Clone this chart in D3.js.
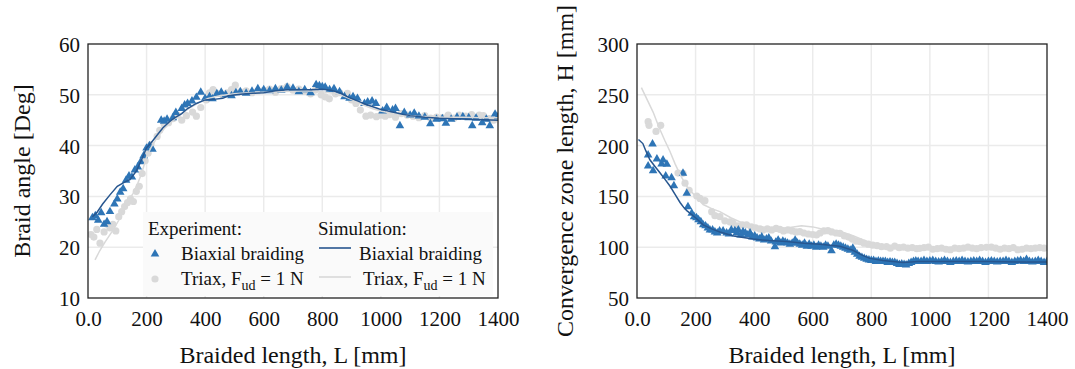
<!DOCTYPE html>
<html><head><meta charset="utf-8">
<script src="https://cdn.jsdelivr.net/npm/d3@7"></script>
<style>
body{margin:0;background:#fff;}
svg, svg text{font-family:"Liberation Serif","Tinos","Times New Roman","Nimbus Roman","Nimbus Roman No9 L","FreeSerif","DejaVu Serif",serif !important;}
</style></head>
<body><svg id="c" width="1075" height="369"></svg>
<script>
// ---------------- data ----------------
const xTicks = [0,200,400,600,800,1000,1200,1400];
const angleTicks = [10,20,30,40,50,60];
const convTicks = [50,100,150,200,250,300];

// Left panel: braid angle [Deg] vs braided length [mm]
const angleBiaxExp = [[15,25.8],[25,26.2],[35,25.3],[45,26.8],[55,24.5],[65,25],[75,27],[90,28.5],[100,29.5],[110,30.8],[120,31.5],[130,33.2],[140,34],[150,33.8],[160,35.2],[170,35.8],[180,36.8],[190,38],[200,39.5],[210,40],[220,39.3],[250,45],[260,44.8],[270,45.2],[290,45.5],[300,46.5],[320,47.3],[330,48],[340,48.3],[355,48.8],[370,49.5],[385,50.5],[400,49.3],[415,49.6],[425,49.2],[440,50.2],[455,50.5],[470,50],[490,49.8],[505,50.4],[520,50.6],[540,50.3],[560,50.7],[580,51.2],[600,51],[620,50.8],[640,51.2],[660,50.9],[680,51.5],[700,51.3],[720,50.6],[740,51],[760,50.4],[779,52],[790,51.8],[800,51.6],[810,51.5],[825,51],[840,51.2],[859,50.6],[876,49.6],[893,49.3],[905,49.6],[920,49.3],[944,48.3],[955,48.6],[970,48.8],[983,48.3],[1006,46.8],[1020,47.5],[1040,47],[1050,47.3],[1065,43.9],[1080,46.5],[1100,46],[1114,46.4],[1130,45.8],[1150,45.6],[1169,44.3],[1190,45.2],[1210,45.3],[1222,44.4],[1240,45.2],[1260,45.6],[1280,45.7],[1300,45.5],[1312,43.9],[1325,45.4],[1346,44.5],[1360,45.2],[1372,43.9],[1390,46.2],[1400,45.7]];
const angleTriaxExp = [[10,22.5],[20,22],[30,23.5],[41,20.8],[55,23],[65,24.5],[75,23.8],[85,24.5],[95,23.2],[105,26],[115,27],[125,28],[135,28.8],[145,29.5],[155,29],[165,31],[175,32],[185,34.5],[195,37],[205,38.5],[215,40.2],[236,41.8],[245,43],[260,44.2],[275,44.5],[290,45.3],[305,46],[320,45],[336,45.9],[357,46.6],[370,45.8],[385,47.5],[404,49],[415,50.4],[427,51],[440,50.3],[460,50],[475,50.4],[490,51],[503,51.9],[520,50.6],[540,50.8],[560,50.4],[580,50.8],[600,50.9],[620,51.1],[640,50.5],[660,51.2],[680,51.6],[700,50.9],[720,51.1],[740,50.7],[760,50.2],[775,50.9],[796,50],[810,49.6],[824,49.2],[845,50.2],[860,50.4],[886,50.3],[900,49],[915,48.3],[930,47],[949,45.8],[965,46],[985,45.7],[1000,46],[1015,45.8],[1030,46.1],[1050,45.6],[1070,46.3],[1090,46],[1110,45.8],[1130,45.5],[1150,45.9],[1170,45.4],[1190,45.6],[1210,45.5],[1230,46],[1250,45.4],[1267,46],[1290,45.8],[1310,46.1],[1336,46],[1350,45.9],[1370,45.3],[1385,45]];
const angleBiaxSim = [[15,26],[30,26.8],[50,28.5],[75,30.3],[100,32],[125,32.8],[143,33.3],[165,35],[185,37.5],[200,39.6],[215,40.5],[235,42],[256,43.5],[280,44.8],[300,45.6],[320,46.3],[340,47.3],[370,48.3],[400,49],[430,49.1],[460,49.3],[480,49.8],[520,50.1],[560,50.3],[600,50.4],[640,50.8],[680,51],[720,51],[760,51],[800,51.1],[830,50.9],[860,50.4],[890,49.5],[920,48.8],[950,48.1],[995,47.2],[1040,46.6],[1070,46.2],[1100,45.9],[1150,45.6],[1200,45.4],[1250,45.3],[1300,45.2],[1350,45.1],[1400,45]];
const angleTriaxSim = [[24,17.5],[40,19.3],[58,21],[86,23.4],[105,25.3],[120,27.3],[137,29],[154,30.6],[170,32.6],[183,34.5],[200,37.8],[215,39.6],[235,41.5],[260,43.3],[290,45],[320,46.3],[350,47.5],[380,48.5],[410,49.3],[450,49.8],[500,50.2],[550,50.4],[600,50.5],[650,50.6],[700,50.7],[750,50.8],[800,50.6],[850,50.2],[880,49.6],[910,48.8],[940,48],[970,47.3],[1000,46.8],[1040,46.3],[1080,46],[1120,45.8],[1170,45.7],[1220,45.6],[1280,45.6],[1340,45.5],[1400,45.5]];

// Right panel: convergence zone length H [mm] vs braided length [mm]
const convBiaxExp = [[38,190.7],[38,180],[53,201.6],[55,175.3],[68,186.8],[84,181.9],[89,185.8],[98,170],[102,181.6],[118,168.4],[126,160.5],[157,172.7],[170,153],[174,139.9],[187,133.4],[195,130],[203,129],[210,127],[218,125],[226,122],[234,121],[242,119],[249,117],[258,117],[266,115],[274,114],[282,116],[294,116],[306,114],[314,113],[322,117],[334,116.3],[340,114],[346,117],[354,112],[362,115.3],[370,114],[378,112],[386,114],[394,110],[402,111],[410,109],[418,108],[426,110],[434,107],[442,108],[450,109],[458,106],[471,100.5],[474,105],[482,107],[490,104],[498,106],[506,105],[514,104],[522,103],[530,104],[540,107],[548,104],[556,103],[564,102],[572,104],[580,101],[588,103],[596,101],[604,102],[612,100],[620,102],[628,101],[636,100],[644,102],[652,101],[664,96.6],[672,102],[680,103],[688,102],[696,101],[704,100],[712,99],[720,98],[728,97],[737,99],[744,95],[752,93],[760,91],[768,90],[776,89],[784,88],[792,87.5],[800,87],[808,87],[816,86],[824,86.5],[832,86],[840,86],[848,86],[856,85],[864,85.5],[872,85],[880,85],[888,84],[896,83],[904,83.5],[912,83],[919,82.5],[928,84],[936,85],[944,86],[952,86.5],[960,86],[970,86],[980,87],[990,86],[1000,86.5],[1010,87],[1020,86],[1030,85.5],[1040,86],[1050,87],[1060,86],[1070,85],[1080,86],[1090,86.5],[1100,86],[1110,87],[1120,86],[1130,85.5],[1140,86],[1150,86.5],[1160,86],[1170,87],[1180,86],[1190,85],[1200,86],[1210,86.5],[1220,86],[1230,85.5],[1240,86],[1250,86],[1260,87],[1270,86],[1280,85],[1290,86],[1300,86.5],[1310,87],[1320,86],[1330,88],[1340,86],[1350,85.5],[1360,86],[1370,87],[1380,86],[1390,85],[1400,86]];
const convTriaxExp = [[38,223.5],[41,220],[65,214],[81,220],[140,173],[157,172.7],[164,163],[178,156],[204,150.4],[215,148],[232,145.8],[255,135],[266,131],[283,130],[300,126],[317,125],[328,123.6],[345,121],[360,122],[374,122],[390,120],[405,119],[420,118],[430,117],[445,118],[460,117],[475,118.5],[488,117.6],[500,116],[515,117],[530,116],[543,115],[556,115.3],[570,114],[585,113],[600,112.5],[613,112],[625,114],[638,116],[652,116.3],[665,115],[680,114],[693,113.7],[708,111],[722,110],[735,108],[748,106],[761,105.5],[775,104],[790,103],[805,102],[820,101.5],[835,100.5],[852,100.5],[865,99],[880,101],[895,99.5],[910,100],[925,99],[940,99.5],[955,98.5],[966,98.9],[980,99.5],[995,100],[1010,98],[1025,98.5],[1040,99],[1055,98],[1070,97.5],[1085,99],[1100,98.5],[1115,99],[1130,100],[1145,99],[1160,98.5],[1175,99.5],[1193,99.9],[1210,100],[1225,99],[1240,98],[1255,99],[1270,98.5],[1285,99.5],[1300,97.5],[1315,98],[1330,99],[1345,98.5],[1360,99],[1375,99.5],[1390,99]];
const convBiaxSim = [[5,206],[20,202],[30,195],[44,186],[60,180],[79,173],[95,167],[113,160],[130,152],[147,144],[160,139],[170,136],[200,129],[226,122],[255,118],[283,115],[330,111],[396,108],[450,106.5],[511,105.5],[570,104],[625,103],[693,101],[737,97],[770,92],[795,89],[840,87],[908,85],[960,86],[1000,86],[1100,86],[1200,86],[1300,85.5],[1400,85.5]];
const convTriaxSim = [[15,257],[35,245],[55,233],[75,218],[95,205],[113,194],[130,182],[150,170],[170,160],[200,150],[226,142],[255,138],[283,135],[320,129],[360,124],[396,120],[450,119],[511,119],[562,121],[600,120],[647,117],[700,115],[740,111],[795,104.5],[850,101.5],[908,100],[1000,99.5],[1100,99.3],[1200,99.2],[1300,99],[1400,99]];

// ---------------- styles ----------------
const FONT = '"Liberation Serif","Tinos","Times New Roman","Nimbus Roman","FreeSerif","DejaVu Serif",serif';
const BLUE = "#2e75b6", DARKBLUE = "#27568f", GREY = "#d9d9d9", GRID = "#ebebeb";
const svg = d3.select("#c").attr("font-family",FONT);

function panel(opts){
  const {x0,x1,y0,y1,yDomain,yTicks,yTitle,triExp,cirExp,biaxSim,triaxSim,legend} = opts;
  const x = d3.scaleLinear().domain([0,1400]).range([x0,x1]);
  const y = d3.scaleLinear().domain(yDomain).range([y1,y0]);
  const g = svg.append("g").attr("font-family",FONT);
  // grid
  g.append("g").selectAll("line").data(xTicks.slice(1,-1)).join("line")
    .attr("x1",d=>x(d)).attr("x2",d=>x(d)).attr("y1",y0).attr("y2",y1)
    .attr("stroke",GRID).attr("stroke-width",1.5);
  g.append("g").selectAll("line").data(yTicks.slice(1,-1)).join("line")
    .attr("y1",d=>y(d)).attr("y2",d=>y(d)).attr("x1",x0).attr("x2",x1)
    .attr("stroke",GRID).attr("stroke-width",1.5);
  // axes
  const xa = g.append("g").attr("transform",`translate(0,${y1})`)
    .call(d3.axisBottom(x).tickValues(xTicks).tickSize(0).tickPadding(13).tickFormat(d=>d===0?"0.0":d));
  const ya = g.append("g").attr("transform",`translate(${x0},0)`)
    .call(d3.axisLeft(y).tickValues(yTicks).tickSize(0).tickPadding(8));
  [xa,ya].forEach(a=>{a.attr("font-family",FONT).attr("font-size",21); a.select(".domain").remove();
    a.selectAll("text").attr("fill","#111");});
  ya.selectAll("text").attr("dy","0.36em");
  // data
  const clip = "clip"+x0;
  svg.append("clipPath").attr("id",clip).append("rect").attr("x",x0).attr("y",y0).attr("width",x1-x0).attr("height",y1-y0);
  const d = g.append("g").attr("clip-path",`url(#${clip})`);
  d.append("g").selectAll("circle").data(cirExp).join("circle")
    .attr("cx",p=>x(p[0])).attr("cy",p=>y(p[1])).attr("r",3.6).attr("fill",GREY);
  d.append("g").selectAll("path").data(triExp).join("path")
    .attr("d",d3.symbol(d3.symbolTriangle,32)())
    .attr("transform",p=>`translate(${x(p[0])},${y(p[1])})`).attr("fill",BLUE);
  const line = d3.line().x(p=>x(p[0])).y(p=>y(p[1]));
  d.append("path").datum(triaxSim).attr("d",line).attr("fill","none").attr("stroke",GREY).attr("stroke-width",1.5);
  d.append("path").datum(biaxSim).attr("d",line).attr("fill","none").attr("stroke",DARKBLUE).attr("stroke-width",1.5);
  // frame
  g.append("rect").attr("x",x0).attr("y",y0).attr("width",x1-x0).attr("height",y1-y0)
    .attr("fill","none").attr("stroke","#222").attr("stroke-width",1.3);
  // titles
  g.append("text").attr("x",(x0+x1)/2).attr("y",363).attr("text-anchor","middle")
    .attr("font-size",24).attr("fill","#111").text("Braided length, L [mm]");
  g.append("text").attr("transform",`translate(${opts.yTitleX},${(y0+y1)/2}) rotate(-90)`)
    .attr("text-anchor","middle").attr("font-size",24).attr("fill","#111").text(yTitle);
  if(legend){
    const L = g.append("g");
    L.append("rect").attr("x",143).attr("y",212).attr("width",350).attr("height",84).attr("fill","#fafafa");
    const t = (xx,yy,txt)=>L.append("text").attr("x",xx).attr("y",yy).attr("font-size",19).attr("fill","#111").text(txt);
    t(148,235,"Experiment:");
    t(318,235,"Simulation:");
    L.append("path").attr("d",d3.symbol(d3.symbolTriangle,32)()).attr("transform","translate(155,254)").attr("fill",BLUE);
    t(181,260,"Biaxial braiding");
    L.append("line").attr("x1",319).attr("x2",351).attr("y1",248).attr("y2",248).attr("stroke",DARKBLUE).attr("stroke-width",1.6);
    t(359,260,"Biaxial braiding");
    L.append("circle").attr("cx",155).attr("cy",279).attr("r",3.6).attr("fill",GREY);
    L.append("line").attr("x1",319).attr("x2",351).attr("y1",277).attr("y2",277).attr("stroke",GREY).attr("stroke-width",1.6);
    [[181],[363]].forEach(([xx])=>{
      const tx = t(xx,285,"Triax, F");
      tx.append("tspan").attr("font-size",14).attr("dy",5).text("ud");
      tx.append("tspan").attr("dy",-5).text(" = 1 N");
    });
  }
}

panel({x0:88,x1:498,y0:44,y1:298,yDomain:[10,60],yTicks:angleTicks,yTitle:"Braid angle [Deg]",yTitleX:30,
  triExp:angleBiaxExp,cirExp:angleTriaxExp,biaxSim:angleBiaxSim,triaxSim:angleTriaxSim,legend:true});
panel({x0:637,x1:1047,y0:44,y1:298,yDomain:[50,300],yTicks:convTicks,yTitle:"Convergence zone length, H [mm]",yTitleX:573,
  triExp:convBiaxExp,cirExp:convTriaxExp,biaxSim:convBiaxSim,triaxSim:convTriaxSim,legend:false});
</script></body></html>
